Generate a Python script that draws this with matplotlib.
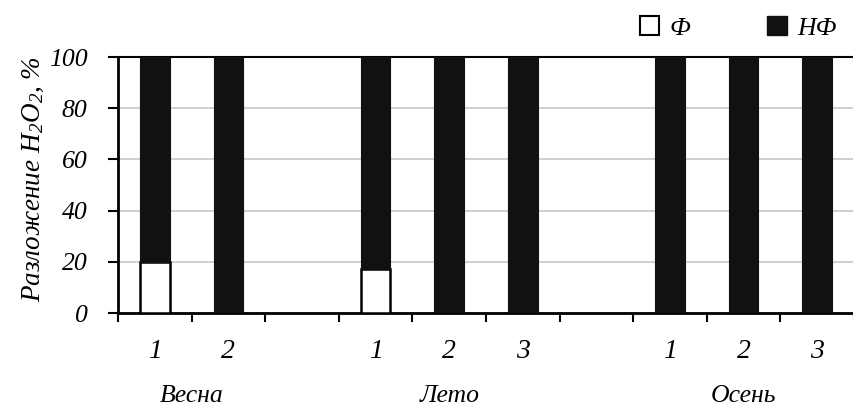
import matplotlib
matplotlib.use("Agg")
import matplotlib.pyplot as plt
from matplotlib.patches import Patch
from matplotlib.transforms import blended_transform_factory

plt.rcParams['font.family'] = ['Liberation Serif', 'DejaVu Serif']
plt.rcParams['font.style'] = 'italic'
plt.rcParams['mathtext.fontset'] = 'custom'
plt.rcParams['mathtext.rm'] = 'Liberation Serif:italic'
plt.rcParams['mathtext.it'] = 'Liberation Serif:italic'

# ---- data ----
season_names = ['Весна', 'Лето', 'Осень']
sample_labels = [['1', '2'], ['1', '2', '3'], ['1', '2', '3']]
f_values = [[20, 0], [17, 0, 0], [0, 0, 0]]          # Ф
nf_values = [[80, 100], [83, 100, 100], [100, 100, 100]]  # НФ
legend_labels = ['Ф', 'НФ']
y_ticks = [0, 20, 40, 60, 80, 100]

fig = plt.figure(figsize=(8.54, 4.11), dpi=100)
ax = fig.add_axes([118/854, 1-313/411, 1-118/854, (313-57)/411])

bar_w = 0.4
labels_x, season_x = [], []
pos = 0
for si, name in enumerate(season_names):
    n = len(sample_labels[si])
    xs = list(range(pos, pos + n))
    season_x.append(sum(xs) / n)
    for k, x in enumerate(xs):
        fv = f_values[si][k]
        nv = nf_values[si][k]
        if fv > 0:
            ax.bar(x, fv, width=bar_w, color='white', edgecolor='black', linewidth=1.8, zorder=3)
        ax.bar(x, nv, width=bar_w, bottom=fv, color='#111111', edgecolor='#111111', linewidth=0.8, zorder=3)
        labels_x.append((x, sample_labels[si][k]))
    pos += n + 1

ax.set_xlim(-0.5, 9.45)
ax.set_ylim(0, 100)
ax.set_yticks(y_ticks)
ax.set_yticklabels([str(v) for v in y_ticks], fontsize=18.5)
ax.yaxis.grid(True, color='#c8c8c8', linewidth=1.2, zorder=0)
ax.set_axisbelow(True)

ax.set_xticks([b - 0.5 for b in range(0, 11)])
ax.set_xticklabels([])
ax.tick_params(axis='x', length=6.5, width=1.5, direction='out')
ax.tick_params(axis='y', length=7, width=1.5, direction='out', pad=15)

ax.spines['right'].set_visible(False)
ax.spines['top'].set_linewidth(1.5)
ax.spines['left'].set_linewidth(2)
ax.spines['bottom'].set_linewidth(2)

tr = blended_transform_factory(ax.transData, fig.transFigure)
for x, lab in labels_x:
    ax.text(x, 1 - 352/411, lab, transform=tr, ha='center', va='center', fontsize=20)
for x, name in zip(season_x, season_names):
    ax.text(x, 1 - 396/411, name, transform=tr, ha='center', va='center', fontsize=18.5)

ax.set_ylabel('Разложение H$_2$O$_2$, %', fontsize=19.5)
ax.yaxis.set_label_coords(-0.098, 0.525)

handles = [Patch(facecolor='white', edgecolor='black', linewidth=1.5),
           Patch(facecolor='#111111', edgecolor='#111111')]
fig.legend(handles, legend_labels, loc='center left', bbox_to_anchor=(640/854, 1 - 28/411),
           ncol=2, frameon=False, fontsize=18.5, handlelength=0.75, handleheight=0.75,
           handletextpad=0.4, columnspacing=3.0, borderaxespad=0, borderpad=0)

fig.savefig('out.png', dpi=100)
